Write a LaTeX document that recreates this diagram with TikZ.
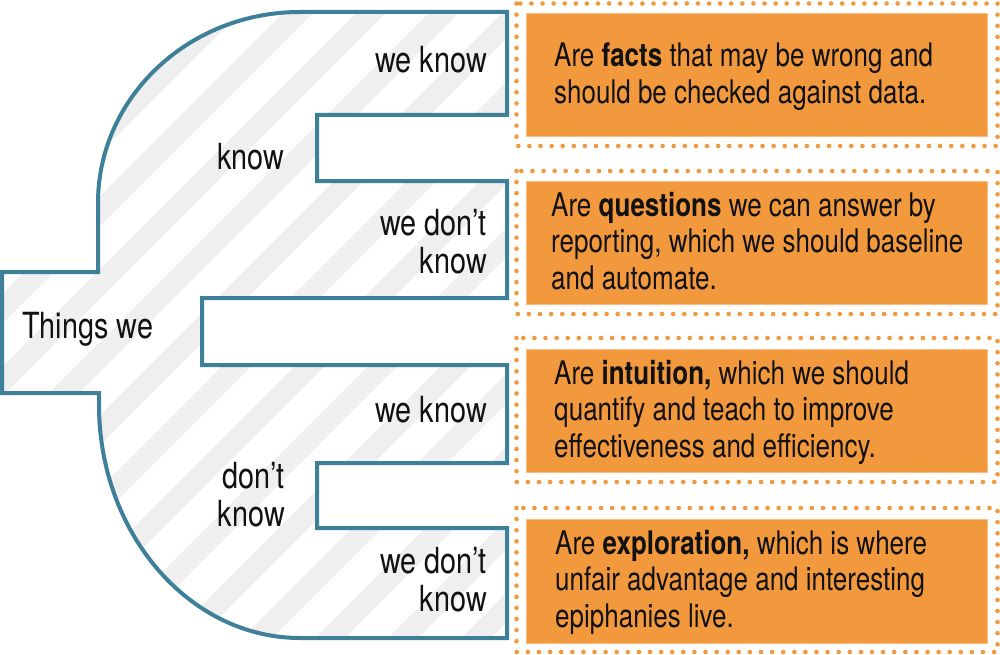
\documentclass[tikz,border=0pt]{standalone}
\usepackage{fontspec}
\setmainfont{TeX Gyre Heros}[FakeStretch=0.8]
\definecolor{rim}{HTML}{3E7F99}
\definecolor{stripe}{HTML}{EFEFEF}
\definecolor{amber}{HTML}{F2993E}
\definecolor{amberrim}{HTML}{F7BC84}
\definecolor{ink}{HTML}{111111}
\begin{document}
\begin{tikzpicture}[x=1pt,y=-1pt,
  outline/.style={draw=rim, line width=4pt, line join=miter},
  hatch/.style={draw=stripe, line width=21pt},
  label/.style={inner sep=0pt, text=ink, font=\fontsize{36}{38}\selectfont},
  note/.style={inner sep=0pt, text=ink, align=left, anchor=north west,
    font=\fontsize{32.5}{36.6}\selectfont},
  card/.style={fill=amber, draw=amberrim, line width=1.2pt, anchor=north west,
    inner sep=0pt, minimum width=461pt, minimum height=123pt},
  dotframe/.style={draw=amber, line width=4.6pt, line cap=round,
    dash pattern=on 0pt off 11.1pt}]
\useasboundingbox (0,0) rectangle (1000,655);

% outline of the "Things we know / don't know" tree
\path[save path=\blob]
  (507,12) -- (507,115) -- (317,115) -- (317,181) -- (507,181)
  -- (507,298) -- (202,298) -- (202,365) -- (507,365)
  -- (507,463) -- (317,463) -- (317,528) -- (507,528)
  -- (507,638) -- (300,638)
  .. controls (189,638) and (99,533) .. (99,405)
  -- (99,393) -- (2,393) -- (2,272) -- (98,272) -- (98,203)
  .. controls (98,97.5) and (188.4,12) .. (300,12)
  -- cycle;

% diagonal stripes inside the outline
\begin{scope}
  \clip[use path=\blob];
  \foreach \k in {-4,...,10}
    \draw[hatch] ({457+73*\k-700},700) -- ({457+73*\k+50},-50);
\end{scope}
\draw[outline, use path=\blob];

% labels of the tree
\node[label, anchor=base east] (wk1) at (487,73) {we know};
\node[label, anchor=base] (kn) at (251,169) {know};
\node[label, align=right, anchor=north east] (wdk1) at (487,209) {we don’t\\know};
\node[label, anchor=base west] (tw) at (22,338) {Things we};
\node[label, anchor=base east] (wk2) at (487,422) {we know};
\node[label, align=right, anchor=north east] (dk) at (285,462) {don’t\\know};
\node[label, align=right, anchor=north east] (wdk2) at (487,547) {we don’t\\know};

% explanation cards
\draw[dotframe] (516.5,3.5) rectangle (997.5,146);
\node[card] (c1) at (526,13) {};
\node[note] (t1) at (554,42.6)
  {Are \textbf{facts} that may be wrong and\\should be checked against data.};

\draw[dotframe] (516.5,171) rectangle (997.5,314);
\node[card] (c2) at (526,181) {};
\node[note] (t2) at (551,191.6)
  {Are \textbf{questions} we can answer by\\reporting, which we should baseline\\and automate.};

\draw[dotframe] (516.5,338) rectangle (997.5,482);
\node[card] (c3) at (526,349) {};
\node[note] (t3) at (554,359.6)
  {Are \textbf{intuition,} which we should\\quantify and teach to improve\\effectiveness and efficiency.};

\draw[dotframe] (516.5,508) rectangle (997.5,652);
\node[card, minimum height=124pt] (c4) at (526,519) {};
\node[note] (t4) at (555,529.6)
  {Are \textbf{exploration,} which is where\\unfair advantage and interesting\\epiphanies live.};
\end{tikzpicture}
\end{document}
